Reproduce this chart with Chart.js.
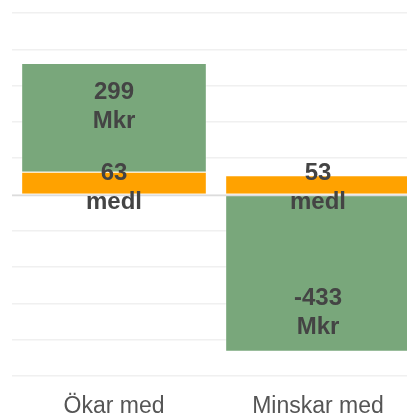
<!DOCTYPE html>
<html>
<head>
<meta charset="utf-8">
<script src="https://cdn.jsdelivr.net/npm/chart.js@4"></script>
<style>
  html, body { margin: 0; padding: 0; overflow: hidden; background: #fff; }
  #wrap { width: 420px; height: 416px; position: relative; }
</style>
</head>
<body>
<div id="wrap"><canvas id="myChart"></canvas></div>
<script>
const categories = ["Ökar med", "Minskar med"];
const medlValues = [63, 53];
const mkrValues = [299, -433];
const yTicks = [-500, 500, 100]; // min, max, step

const colours = {
  medl: "rgb(255, 162, 0)",
  mkr: "rgb(121, 167, 123)",
};

// draws the two-line value labels inside the bars
const valueLabels = {
  id: "valueLabels",
  afterDatasetsDraw(chart) {
    const { ctx, scales: { y } } = chart;
    const zero = y.getPixelForValue(0);
    ctx.save();
    ctx.font = "bold 24px 'Liberation Sans', Arial, sans-serif";
    ctx.fillStyle = "#444";
    ctx.textAlign = "center";
    ctx.textBaseline = "middle";

    chart.data.datasets.forEach((ds, di) => {
      const meta = chart.getDatasetMeta(di);
      meta.data.forEach((bar, i) => {
        const v = ds.data[i];
        let cy;
        if (ds.unit === "medl") {
          cy = zero - 7;
        } else {
          cy = v >= 0 ? bar.y + 44 : bar.y - 39;
        }
        ctx.fillText(String(v), bar.x, cy - 14.5);
        ctx.fillText(ds.unit, bar.x, cy + 14.5);
      });
    });
    ctx.restore();
  },
};

// zero line sits on top of the bars
const zeroLine = {
  id: "zeroLine",
  afterDatasetsDraw(chart) {
    const { ctx, chartArea: { left, right }, scales: { y } } = chart;
    const py = Math.round(y.getPixelForValue(0)) + 0.5;
    ctx.save();
    ctx.strokeStyle = "#dcdcdc";
    ctx.lineWidth = 1.5;
    ctx.beginPath();
    ctx.moveTo(left, py);
    ctx.lineTo(right, py);
    ctx.stroke();
    ctx.restore();
  },
};

const data = {
  labels: categories,
  datasets: [
    {
      label: "medl",
      unit: "medl",
      data: medlValues,
      backgroundColor: colours.medl,
      borderColor: "rgba(255,255,255,0.3)",
      borderWidth: 1,
    },
    {
      label: "Mkr",
      unit: "Mkr",
      data: mkrValues,
      backgroundColor: colours.mkr,
      borderColor: "rgba(255,255,255,0.3)",
      borderWidth: 1,
    },
  ],
};

const config = {
  type: "bar",
  data,
  options: {
    responsive: true,
    maintainAspectRatio: false,
    animation: false,
    categoryPercentage: 0.91,
    barPercentage: 1,
    layout: {
      padding: { top: 13, left: 12, right: 0, bottom: 0 },
    },
    scales: {
      x: {
        stacked: true,
        grid: { display: false },
        border: { display: false },
        afterFit: (scale) => {
          scale.height = 40;
        },
        ticks: {
          color: "#555",
          padding: 9,
          maxRotation: 0,
          font: { family: "'Liberation Sans', Arial, sans-serif", size: 23 },
        },
      },
      y: {
        stacked: true,
        min: yTicks[0],
        max: yTicks[1],
        ticks: { display: false, stepSize: yTicks[2] },
        grid: { color: "#f0f0f0", lineWidth: 1.5, drawTicks: false },
        border: { display: false },
      },
    },
    plugins: {
      legend: { display: false },
      tooltip: { enabled: false },
    },
  },
  plugins: [zeroLine, valueLabels],
};

const myChart = new Chart(document.getElementById("myChart"), config);
</script>
</body>
</html>
